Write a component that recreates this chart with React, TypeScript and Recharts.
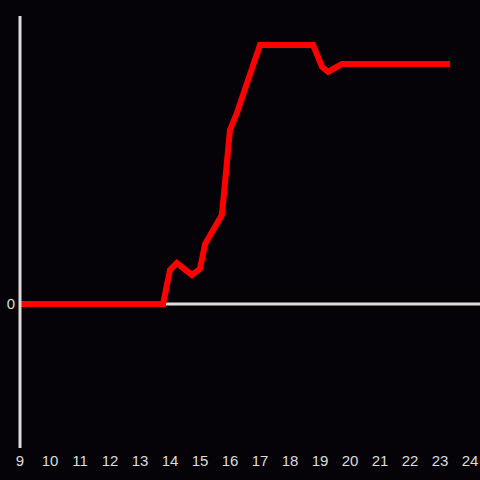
import React from "react";
import { LineChart, Line, XAxis, YAxis, ReferenceLine } from "recharts";

const hours = [9, 13.77, 14.0, 14.23, 14.73, 15.0, 15.17, 15.73, 16.0, 16.23, 17.0, 18.77, 19.07, 19.27, 19.73, 23.33];
const values = [0, 0, 11.8, 14.2, 10.1, 12.2, 20.8, 30.9, 60.4, 66.3, 89.9, 89.9, 82.3, 80.6, 83.3, 83.3];
const xTicks = [9, 10, 11, 12, 13, 14, 15, 16, 17, 18, 19, 20, 21, 22, 23, 24];
const yTicks = [0];

const data = hours.map((t, i) => ({ t, v: values[i] }));

const tickStyle = { fill: "#dddddd", fontSize: 15, fontFamily: "Liberation Sans, Arial, sans-serif" };

export default function App() {
  return (
    <div style={{ position: "fixed", left: 0, top: 0, width: 480, height: 480, background: "#050307" }}>
      <LineChart width={480} height={480} data={data} margin={{ top: 16, right: 0, bottom: 0, left: 0 }}>
        <XAxis
          dataKey="t"
          type="number"
          domain={[9, 24.3333]}
          ticks={xTicks}
          interval={0}
          axisLine={false}
          tickLine={false}
          tickSize={0}
          tickMargin={7}
          height={32}
          tick={tickStyle}
          allowDataOverflow
        />
        <YAxis
          type="number"
          domain={[-50, 100]}
          ticks={yTicks}
          width={20}
          tickLine={false}
          tickSize={0}
          tickMargin={5}
          axisLine={{ stroke: "#dddddd", strokeWidth: 3 }}
          tick={tickStyle}
          allowDataOverflow
        />
        <ReferenceLine y={0} stroke="#dddddd" strokeWidth={3} />
        <Line
          dataKey="v"
          type="linear"
          stroke="#ff0000"
          strokeWidth={6}
          dot={false}
          activeDot={false}
          isAnimationActive={false}
        />
      </LineChart>
    </div>
  );
}
